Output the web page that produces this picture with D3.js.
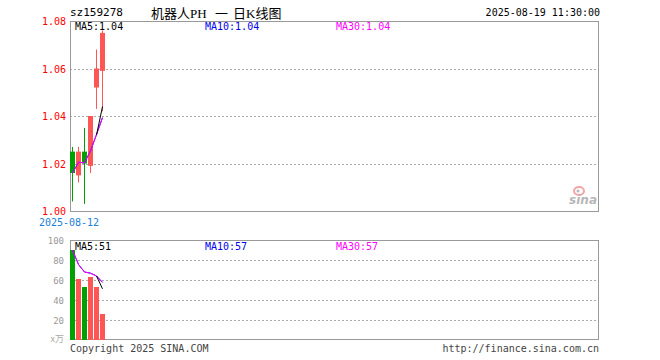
<!DOCTYPE html>
<html lang="zh">
  <head>
    <meta charset="utf-8" />
    <script src="https://cdn.jsdelivr.net/npm/d3@7/dist/d3.min.js"></script>
    <title>sz159278 日K线图</title>
    <style>
      body { margin: 0; background: #fff; }
      text { font-family: "DejaVu Sans Mono", monospace; }
    </style>
  </head>
  <body>
    <div id="container"></div>

    <script>
      const width = 660;
      const height = 360;

      // daily candles
      const dates = ["2025-08-12", "2025-08-13", "2025-08-14", "2025-08-15", "2025-08-18", "2025-08-19"];
      const open = [1.025, 1.015, 1.025, 1.019, 1.052, 1.059];
      const close = [1.016, 1.025, 1.020, 1.040, 1.060, 1.075];
      const high = [1.027, 1.027, 1.035, 1.040, 1.068, 1.076];
      const low = [1.004, 1.012, 1.003, 1.016, 1.043, 1.042];
      const volume = [90, 61, 53, 63, 53, 26]; // 万

      // moving average lines as drawn
      const ma5 = [null, null, null, null, 1.032, 1.044];
      const ma10 = [1.016, 1.0205, 1.0203, 1.0253, 1.0322, 1.0393];
      const ma30 = [1.016, 1.0205, 1.0203, 1.0253, 1.0322, 1.0393];
      const volMa5 = [null, null, null, null, 64, 51.2];
      const volMa10 = [90, 75.5, 68, 66.8, 64, 57.7];
      const volMa30 = [90, 75.5, 68, 66.8, 64, 57.7];

      const priceTicks = [1.0, 1.02, 1.04, 1.06, 1.08];
      const volTicks = [20, 40, 60, 80, 100];
      const titleParts = ["机器人PH", "一", "日K线图"];
      const maLabels = ["MA5:1.04", "MA10:1.04", "MA30:1.04"];
      const volMaLabels = ["MA5:51", "MA10:57", "MA30:57"];

      const slots = 88;
      const left = 70, right = 598;
      const up = "#ff5555", down = "#00a000";
      const maColors = ["#000000", "#0000ee", "#ff00ff"];

      const svg = d3.select("#container").append("svg").attr("width", width).attr("height", height);

      const x = d3.scaleLinear().domain([0, slots]).range([left, right]);
      const y = d3.scaleLinear().domain([1.0, 1.08]).range([211, 21]);
      const yv = d3.scaleLinear().domain([0, 100]).range([340, 240]);

      // header
      svg.append("text").attr("x", 70).attr("y", 16).attr("font-size", 11).text("sz159278");
      svg.selectAll("text.title").data(titleParts).join("text")
        .attr("x", (d, k) => [151, 215, 233][k]).attr("y", 18).attr("font-size", 13)
        .style("font-family", '"Liberation Serif", "Noto Sans CJK SC", serif')
        .text((d) => d);
      svg.append("text").attr("x", 600).attr("y", 16).attr("font-size", 10).attr("text-anchor", "end")
        .text("2025-08-19 11:30:00");

      // price panel
      const main = svg.append("g");
      main.selectAll("line.grid").data(priceTicks.slice(1, -1)).join("line")
        .attr("x1", left).attr("x2", right)
        .attr("y1", (d) => Math.round(y(d)) + 0.5).attr("y2", (d) => Math.round(y(d)) + 0.5)
        .attr("stroke", "#aaa").attr("stroke-dasharray", "2,2");
      main.append("rect").attr("x", left + 0.5).attr("y", 21.5).attr("width", right - left).attr("height", 190)
        .attr("fill", "none").attr("stroke", "#999");

      main.selectAll("text.tick").data(priceTicks).join("text")
        .attr("x", 66).attr("y", (d) => y(d) + 4).attr("text-anchor", "end")
        .attr("font-size", 10).attr("fill", "#ff0000")
        .text((d) => d.toFixed(2));

      // sina mark
      const logo = main.append("g").attr("opacity", 0.6);
      logo.append("ellipse").attr("cx", 579).attr("cy", 191).attr("rx", 5).attr("ry", 4)
        .attr("fill", "none").attr("stroke", "#ee6666").attr("stroke-width", 2);
      logo.append("circle").attr("cx", 578).attr("cy", 191).attr("r", 1.5).attr("fill", "#888");
      logo.append("text").attr("x", 597).attr("y", 204).attr("text-anchor", "end")
        .attr("font-size", 12).attr("font-style", "italic").attr("font-weight", "bold")
        .attr("fill", "#888").style("font-family", '"DejaVu Sans", sans-serif').text("sina");

      const idx = d3.range(dates.length);
      main.selectAll("line.wick").data(idx).join("line")
        .attr("x1", (i) => x(i) + 2.5).attr("x2", (i) => x(i) + 2.5)
        .attr("y1", (i) => y(high[i])).attr("y2", (i) => y(low[i]))
        .attr("stroke", (i) => (close[i] >= open[i] ? up : down));
      main.selectAll("rect.body").data(idx).join("rect")
        .attr("x", (i) => x(i)).attr("width", 5)
        .attr("y", (i) => y(Math.max(open[i], close[i])))
        .attr("height", (i) => Math.max(1, Math.abs(y(open[i]) - y(close[i]))))
        .attr("fill", (i) => (close[i] >= open[i] ? up : down));

      const priceLine = (arr) => d3.line().defined((i) => arr[i] != null)
        .x((i) => x(i) + 2.5).y((i) => y(arr[i]));
      [ma10, ma30, ma5].forEach((arr, k) => {
        main.append("path").attr("d", priceLine(arr)(idx)).attr("fill", "none")
          .attr("stroke", [maColors[1], maColors[2], maColors[0]][k]);
      });

      main.selectAll("text.ma").data(maLabels).join("text")
        .attr("x", (d, k) => [75, 205, 336][k]).attr("y", 30).attr("font-size", 10)
        .attr("fill", (d, k) => maColors[k]).text((d) => d);

      svg.append("text").attr("x", 69).attr("y", 226).attr("text-anchor", "middle")
        .attr("font-size", 10).attr("fill", "#1a80d8").text(dates[0]);

      // volume panel
      const vol = svg.append("g");
      vol.selectAll("line.grid").data(volTicks.slice(0, -1)).join("line")
        .attr("x1", left).attr("x2", right)
        .attr("y1", (d) => yv(d) + 0.5).attr("y2", (d) => yv(d) + 0.5)
        .attr("stroke", "#aaa").attr("stroke-dasharray", "2,2");
      vol.append("rect").attr("x", left + 0.5).attr("y", 240.5).attr("width", right - left).attr("height", 99)
        .attr("fill", "none").attr("stroke", "#999");
      vol.selectAll("text.tick").data(volTicks).join("text")
        .attr("x", 64).attr("y", (d) => yv(d) + 4).attr("text-anchor", "end")
        .attr("font-size", 9).attr("fill", "#999").text((d) => d);
      vol.append("text").attr("x", 64).attr("y", 342).attr("text-anchor", "end")
        .attr("font-size", 9).attr("fill", "#aaa")
        .style("font-family", '"Noto Sans CJK SC", sans-serif').text("x万");

      vol.selectAll("rect.bar").data(idx).join("rect")
        .attr("x", (i) => x(i)).attr("width", 5)
        .attr("y", (i) => yv(volume[i])).attr("height", (i) => yv(0) - yv(volume[i]))
        .attr("fill", (i) => (close[i] >= open[i] ? up : down));

      const volLine = (arr) => d3.line().defined((i) => arr[i] != null)
        .x((i) => x(i) + 2.5).y((i) => yv(arr[i]));
      [volMa10, volMa30, volMa5].forEach((arr, k) => {
        vol.append("path").attr("d", volLine(arr)(idx)).attr("fill", "none")
          .attr("stroke", [maColors[1], maColors[2], maColors[0]][k]);
      });

      vol.selectAll("text.ma").data(volMaLabels).join("text")
        .attr("x", (d, k) => [75, 205, 336][k]).attr("y", 250).attr("font-size", 10)
        .attr("fill", (d, k) => maColors[k]).text((d) => d);

      // footer
      svg.append("text").attr("x", 70).attr("y", 352).attr("font-size", 10).attr("fill", "#444")
        .text("Copyright 2025 SINA.COM");
      svg.append("text").attr("x", 599).attr("y", 352).attr("font-size", 10).attr("fill", "#444")
        .attr("text-anchor", "end").text("http://finance.sina.com.cn");
    </script>
  </body>
</html>
